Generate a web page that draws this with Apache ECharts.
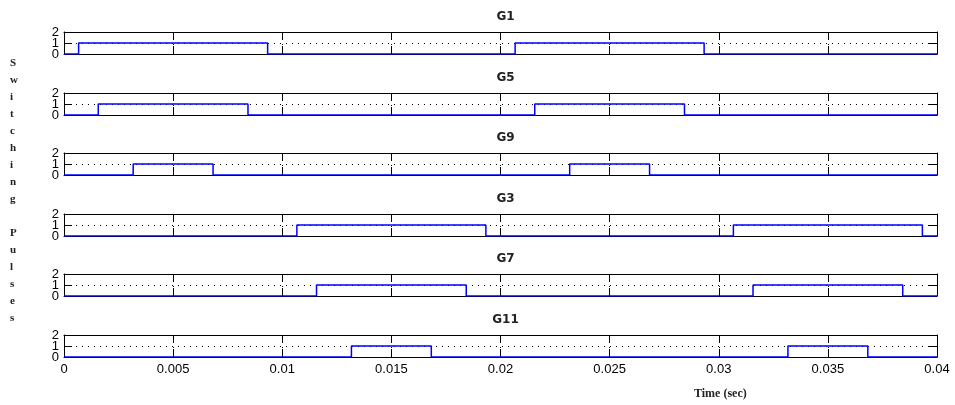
<!DOCTYPE html>
<html><head><meta charset="utf-8">
<script src="https://cdn.jsdelivr.net/npm/echarts@6/dist/echarts.min.js"></script>
<style>html,body{margin:0;padding:0;background:#fff}#c{width:955px;height:405px}</style>
</head><body><div id="c"></div>
<script>
// Data: pulse on/off times (sec) per gate signal
const gateNames = ['G1', 'G5', 'G9', 'G3', 'G7', 'G11'];
const pulsesG1  = [[0.00067, 0.00933], [0.02067, 0.02933]];
const pulsesG5  = [[0.00157, 0.00843], [0.02157, 0.02843]];
const pulsesG9  = [[0.00317, 0.00683], [0.02317, 0.02683]];
const pulsesG3  = [[0.01067, 0.01933], [0.03067, 0.03933]];
const pulsesG7  = [[0.01157, 0.01843], [0.03157, 0.03843]];
const pulsesG11 = [[0.01317, 0.01683], [0.03317, 0.03683]];
const pulseLevel = 1;
const tStart = 0, tEnd = 0.04, tStep = 0.005;
const yMin = 0, yMax = 2, yStep = 1;
const xTickLabels = ['0', '0.005', '0.01', '0.015', '0.02', '0.025', '0.03', '0.035', '0.04'];
const yTickLabels = ['0', '1', '2'];
const yLabelText = 'Switching Pulses';
const xLabelText = 'Time (sec)';

const allPulses = [pulsesG1, pulsesG5, pulsesG9, pulsesG3, pulsesG7, pulsesG11];

function stepData(pulses) {
  const d = [[tStart, 0]];
  pulses.forEach(([r, f]) => { d.push([r, 0], [r, pulseLevel], [f, pulseLevel], [f, 0]); });
  d.push([tEnd, 0]);
  return d;
}

const tops = [32, 93, 153, 214, 274, 335];
const L = 64, W = 873, H = 22;
const dotted = { color: '#000', width: 1, type: [1, 5] };
const axisLine = { show: true, onZero: false, lineStyle: { color: '#000', width: 1 } };
const tickStyle = { show: true, inside: true, length: 8, lineStyle: { color: '#000', width: 1 } };
const sans = 'Liberation Sans';
const yIdx = v => Math.round((v - yMin) / yStep);
const midIdx = Math.floor(yTickLabels.length / 2);

const grid = [], xAxis = [], yAxis = [], series = [], title = [];
gateNames.forEach((name, i) => {
  grid.push({ left: L, top: tops[i], width: W, height: H });
  const last = i === gateNames.length - 1;
  xAxis.push({
    gridIndex: i, type: 'value', min: tStart, max: tEnd, interval: tStep, position: 'bottom',
    axisLine, axisTick: tickStyle,
    splitLine: { show: true, lineStyle: dotted },
    axisLabel: { show: last, color: '#000', fontFamily: sans, fontSize: 13, margin: 6,
      showMinLabel: true, showMaxLabel: true, hideOverlap: false,
      formatter: v => xTickLabels[Math.round((v - tStart) / tStep)] }
  });
  xAxis.push({
    gridIndex: i, type: 'value', min: tStart, max: tEnd, interval: tStep, position: 'top',
    axisLine, axisTick: tickStyle, splitLine: { show: false }, axisLabel: { show: false }
  });
  // main left axis: labels at min and max
  yAxis.push({
    gridIndex: i, type: 'value', min: yMin, max: yMax, interval: yStep, position: 'left',
    axisLine, axisTick: tickStyle,
    splitLine: { show: true, lineStyle: dotted },
    axisLabel: { color: '#000', fontFamily: sans, fontSize: 13, margin: 5,
      showMinLabel: true, showMaxLabel: true, hideOverlap: false,
      formatter: v => (yIdx(v) === midIdx ? '' : yTickLabels[yIdx(v)]) }
  });
  // right axis: ticks only
  yAxis.push({
    gridIndex: i, type: 'value', min: yMin, max: yMax, interval: yStep, position: 'right',
    axisLine, axisTick: tickStyle, splitLine: { show: false }, axisLabel: { show: false }
  });
  // second left axis: middle label only
  yAxis.push({
    gridIndex: i, type: 'value', min: yMin, max: yMax, interval: yStep, position: 'left', offset: 0,
    axisLine: { show: false }, axisTick: { show: false }, splitLine: { show: false },
    axisLabel: { color: '#000', fontFamily: sans, fontSize: 13, margin: 5, hideOverlap: false,
      showMinLabel: false, showMaxLabel: false,
      formatter: v => (yIdx(v) === midIdx ? yTickLabels[midIdx] : '') }
  });
  series.push({
    type: 'line', xAxisIndex: 2 * i, yAxisIndex: 3 * i, data: stepData(allPulses[i]),
    symbol: 'none', lineStyle: { color: '#0000ff', width: 1.5 }, z: 5, animation: false
  });
  title.push({
    text: name, left: L + W / 2, top: tops[i] - 26, textAlign: 'center',
    textStyle: { fontSize: 12, fontWeight: 'bold', fontFamily: 'DejaVu Sans', color: '#222' }
  });
});

const chart = echarts.init(document.getElementById('c'), null, { renderer: 'canvas' });
chart.setOption({
  animation: false,
  backgroundColor: '#fff',
  title, grid, xAxis, yAxis, series,
  graphic: [
    { type: 'text', left: 10, top: 55,
      style: { text: yLabelText.split('').map(c => c === ' ' ? '' : c).join('\n'),
        font: 'bold 11px "Liberation Serif"', lineHeight: 17, fill: '#222', align: 'center' } },
    { type: 'text', left: 694, top: 388,
      style: { text: xLabelText, font: 'bold 12px "Liberation Serif"', fill: '#222' } }
  ]
});
</script></body></html>
